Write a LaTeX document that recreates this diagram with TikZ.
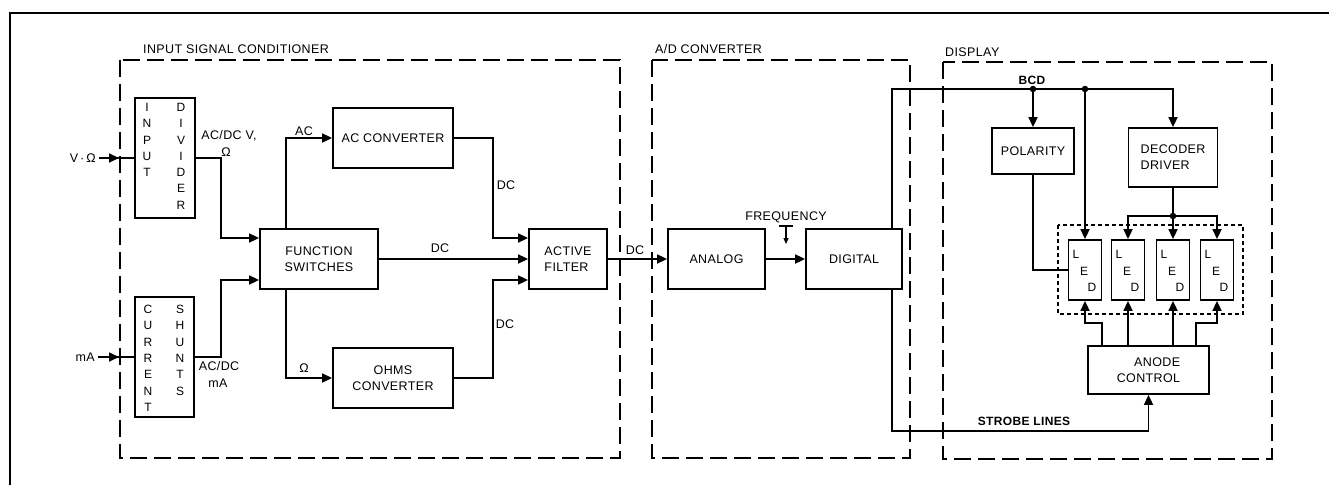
\documentclass[tikz,border=0pt]{standalone}
\usepackage{fontspec}
\setmainfont[LetterSpace=3]{Liberation Sans}
\usetikzlibrary{arrows.meta,calc}
\begin{document}
\begin{tikzpicture}[x=1pt,y=-1pt,
  every node/.style={font=\fontsize{12.5}{16}\selectfont},
  blk/.style={draw,line width=1.8pt,inner sep=0pt,align=center},
  wire/.style={line width=1.7pt},
  arr/.style={wire,-{Triangle[length=10pt,width=9pt]}},
  arrs/.style={line width=1.3pt,-{Triangle[length=6pt,width=5pt]}},
  grp/.style={line width=1.7pt,dash pattern=on 17pt off 7pt},
  dotbox/.style={line width=1.4pt,dash pattern=on 4pt off 3pt},
  lbl/.style={inner sep=0pt},
  col/.style={inner sep=0pt,anchor=north,align=center,font=\fontsize{12}{16.3}\selectfont},
  ledl/.style={inner sep=0pt,font=\fontsize{12}{14}\selectfont},
  jdot/.style={fill,circle,inner sep=0pt,minimum size=6.5pt}
]
\useasboundingbox (0,0) rectangle (1329,485);
% page frame
\draw[line width=2.8pt] (10,485) -- (10,13) -- (1329,13);

% groups
\draw[grp] (120,60) rectangle (620,458);
\draw[grp] (652,60) rectangle (910,458);
\draw[grp] (943,62) rectangle (1272,459);
\node[lbl,anchor=west] (g1) at (143,49) {INPUT SIGNAL CONDITIONER};
\node[lbl,anchor=west] (g2) at (655,49) {A/D CONVERTER};
\node[lbl,anchor=west] (g3) at (945,52) {DISPLAY};

% input blocks
\node[blk,minimum width=60pt,minimum height=120pt] (indiv) at (165,158) {};
\node[col] at (147,103) {I\\N\\P\\U\\T};
\node[col] at (181,103) {D\\I\\V\\I\\D\\E\\R};
\node[blk,minimum width=59pt,minimum height=120pt] (shunt) at (164.5,357) {};
\node[col] at (148,305) {C\\U\\R\\R\\E\\N\\T};
\node[col] at (180,305) {S\\H\\U\\N\\T\\S};

\node[blk,minimum width=118pt,minimum height=60pt] (fsw) at (319,259) {FUNCTION\\SWITCHES};
\node[blk,minimum width=120pt,minimum height=60pt] (acc) at (393,138) {AC CONVERTER};
\node[blk,minimum width=120pt,minimum height=60pt] (ohm) at (393,378) {OHMS\\CONVERTER};
\node[blk,minimum width=78pt,minimum height=60pt,align=left] (af) at (568,259) {ACTIVE\\FILTER};
\node[blk,minimum width=97pt,minimum height=60pt] (ana) at (716.5,259) {ANALOG};
\node[blk,minimum width=96pt,minimum height=60pt] (dig) at (854,259) {DIGITAL};

% display blocks
\node[blk,minimum width=82pt,minimum height=46pt] (pol) at (1033,151) {POLARITY};
\node[blk,minimum width=89pt,minimum height=59pt,align=left] (dec) at (1173,157.5) {DECODER\\DRIVER};
\foreach \i/\x in {1/1085,2/1128,3/1173,4/1217}{
  \node[blk,minimum width=33pt,minimum height=60pt] (led\i) at (\x,270) {};
  \node[ledl] at ([shift={(-9,-16)}]led\i.center) {L};
  \node[ledl] at ([shift={(-1,1)}]led\i.center) {E};
  \node[ledl] at ([shift={(7,17)}]led\i.center) {D};
}
\draw[dotbox] (1058,225) rectangle (1243,314);
\node[blk,minimum width=121pt,minimum height=48pt,align=right] (ano) at (1148.5,370) {ANODE\\CONTROL};

% inputs
\node[lbl,anchor=east] (vlab) at (96,158) {V\,·\,Ω};
\coordinate (vtip) at (119,158);
\draw[wire] ([xshift=3pt]vlab.east) -- (indiv.west);
\draw[arr] ([xshift=3pt]vlab.east) -- (vtip);
\node[lbl,anchor=east] (malab) at (95,357) {mA};
\coordinate (mtip) at (119,357);
\draw[wire] ([xshift=3pt]malab.east) -- (shunt.west);
\draw[arr] ([xshift=3pt]malab.east) -- (mtip);

% signal conditioner wiring
\draw[arr] (indiv.east) -- (221,158) |- ([yshift=21pt]fsw.west);
\draw[arr] (shunt.east) -- (221,357) |- ([yshift=-21pt]fsw.west);
\node[lbl] at (229,136) {AC/DC V,};
\node[lbl] at (226,152) {Ω};
\node[lbl] at (219,366) {AC/DC};
\node[lbl] at (218,383) {mA};

\draw[arr] ([xshift=-33pt]fsw.north) |- (acc.west);
\draw[arr] ([xshift=-33pt]fsw.south) |- (ohm.west);
\node[lbl] at (304,131) {AC};
\node[lbl] at (304,368) {Ω};
\draw[arr] (fsw.east) -- (af.west);
\node[lbl] at (440,248) {DC};
\draw[arr] (acc.east) -- (493,138) |- ([yshift=21pt]af.west);
\draw[arr] (ohm.east) -- (493,378) |- ([yshift=-21pt]af.west);
\node[lbl] at (506,185) {DC};
\node[lbl] at (505,324) {DC};

% A/D
\draw[arr] (af.east) -- (ana.west);
\node[lbl] at (635,250) {DC};
\draw[arr] (ana.east) -- (dig.west);
\node[lbl] (freq) at (786,217) {FREQUENCY};
\coordinate (fqa) at (779,226);
\coordinate (fqb) at (793,226);
\coordinate (fqc) at (786,226);
\coordinate (fqd) at (786,244);
\draw[line width=1.3pt] (fqa) -- (fqb);
\draw[arrs] (fqc) -- (fqd);

% BCD bus
\coordinate (j1) at (1033,89);
\coordinate (j2) at (1085,89);
\coordinate (j3) at (1173,216);
\draw[wire] ([xshift=38pt]dig.north) |- (j1) -- (j2);
\draw[arr] (j2) -| (dec.north);
\draw[arr] (j1) -- (pol.north);
\draw[arr] (j2) -- (led1.north);
\node[jdot] at (j1) {};
\node[jdot] at (j2) {};
\node[lbl,font=\bfseries\fontsize{12}{14}\selectfont] at (1032,80) {BCD};

\draw[wire] (dec.south) -- (j3);
\draw[arr] (j3) -- (led3.north);
\draw[arr] (j3) -| (led2.north);
\draw[arr] (j3) -| (led4.north);
\node[jdot] at (j3) {};
\draw[wire] (pol.south) |- (led1.west);

% anode control
\draw[arr] ([xshift=-46.5pt]ano.north) -- ++(0,-22) -| (led1.south);
\draw[arr] (ano.north -| led2.south) -- (led2.south);
\draw[arr] (ano.north -| led3.south) -- (led3.south);
\draw[arr] ([xshift=47.5pt]ano.north) -- ++(0,-22) -| (led4.south);

% strobe lines
\draw[arr] ([xshift=38pt]dig.south) -- (892,431) -| (ano.south);
\node[lbl,font=\bfseries\fontsize{12}{14}\selectfont] at (1024,421) {STROBE LINES};
\end{tikzpicture}
\end{document}
